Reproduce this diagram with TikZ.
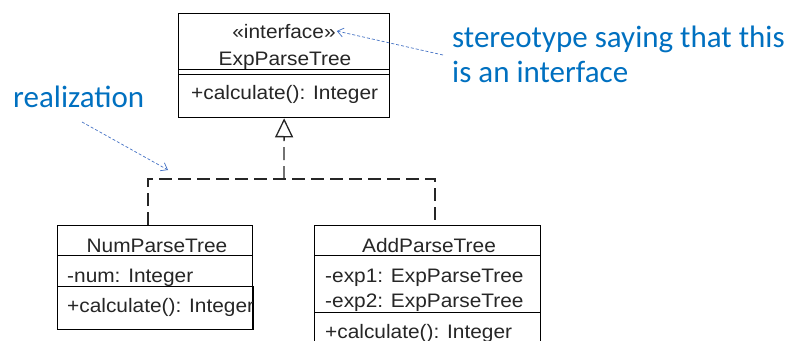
\documentclass[tikz,border=0pt]{standalone}
\usepackage{fontspec}
\usetikzlibrary{arrows.meta}
\newfontfamily\umlfont[FakeStretch=1.07]{Liberation Sans}
\newfontfamily\notefont{Carlito}
\definecolor{noteblue}{HTML}{0070C0}
\definecolor{pointerblue}{HTML}{4472C4}
\tikzset{
  box/.style={draw=black, line width=1.3pt, inner sep=0pt, anchor=north west, fill=white},
  umltext/.style={inner sep=0pt, font=\umlfont\fontsize{19.5}{22}\selectfont, text=black!85},
  notetext/.style={inner sep=0pt, anchor=base west, font=\notefont\fontsize{31}{35}\selectfont, text=noteblue},
  realize/.style={draw=black!85, line width=1.3pt, dash pattern=on 13pt off 6pt},
  pointer/.style={draw=pointerblue, line width=0.7pt, dash pattern=on 3pt off 2pt,
    -{Straight Barb[length=6pt,width=9pt,line width=0.7pt]}}
}
\begin{document}
\begin{tikzpicture}[x=1pt,y=-1pt]
  \useasboundingbox (0,0) rectangle (800,340);
  \clip (0,0) rectangle (800,340);

  % interface ExpParseTree
  \node[box, minimum width=211pt, minimum height=56pt] (ifaceHead) at (178,13) {};
  \node[box, minimum width=211pt, minimum height=5pt]  (ifaceAttr) at (178,69) {};
  \node[box, minimum width=211pt, minimum height=43pt] (ifaceOps)  at (178,74) {};
  \node[umltext, anchor=base] (ifaceStereo) at (284,38) {«interface»};
  \node[umltext, anchor=base] (ifaceName)   at (285,65) {ExpParseTree};
  \node[umltext, anchor=base west] (ifaceCalc) at (191,99) {+calculate(): Integer};

  % class NumParseTree
  \node[box, minimum width=195pt, minimum height=30pt] (numHead) at (57,225) {};
  \node[box, minimum width=195pt, minimum height=31pt] (numAttr) at (57,255) {};
  \node[box, minimum width=195pt, minimum height=43pt] (numOps)  at (57,286) {};
  \node[umltext, anchor=base] (numName) at (157,252) {NumParseTree};
  \node[umltext, anchor=base west] (numField) at (67,282) {-num: Integer};
  \begin{scope}
    \clip (numOps.north west) rectangle (numOps.south east);
    \node[umltext, anchor=base west] (numCalc) at (67,312) {+calculate(): Integer};
  \end{scope}
  \draw[line width=1.3pt] (numOps.north east) -- (numOps.south east);

  % class AddParseTree
  \node[box, minimum width=226pt, minimum height=30pt] (addHead) at (314,225) {};
  \node[box, minimum width=226pt, minimum height=57pt] (addAttr) at (314,255) {};
  \node[box, minimum width=226pt, minimum height=50pt] (addOps)  at (314,312) {};
  \node[umltext, anchor=base] (addName) at (429,252) {AddParseTree};
  \node[umltext, anchor=base west] (addExpA) at (325,282) {-exp1: ExpParseTree};
  \node[umltext, anchor=base west] (addExpB) at (325,307) {-exp2: ExpParseTree};
  \node[umltext, anchor=base west] (addCalc) at (325,338) {+calculate(): Integer};

  % realization of the interface
  \coordinate (join) at (284,179);
  \draw[realize] ([xshift=91pt]numHead.north west) |- (join) -| ([xshift=121pt]addHead.north west);
  \draw[realize, -{Triangle[open, length=19pt, width=18pt, line width=1.3pt]}] (join) -- (ifaceOps.south);

  % annotations
  \node[notetext] (noteReal) at (13,107) {realization};
  \node[notetext] (noteStereoA) at (452,47) {stereotype saying that this};
  \node[notetext] (noteStereoB) at (452,82) {is an interface};
  \coordinate (realTail) at (82,122);
  \coordinate (realHead) at (168,170);
  \draw[pointer] (realTail) -- (realHead);
  \coordinate (stereoTail) at (443,55);
  \draw[pointer] (stereoTail) -- ([xshift=1pt]ifaceStereo.east);
\end{tikzpicture}
\end{document}
